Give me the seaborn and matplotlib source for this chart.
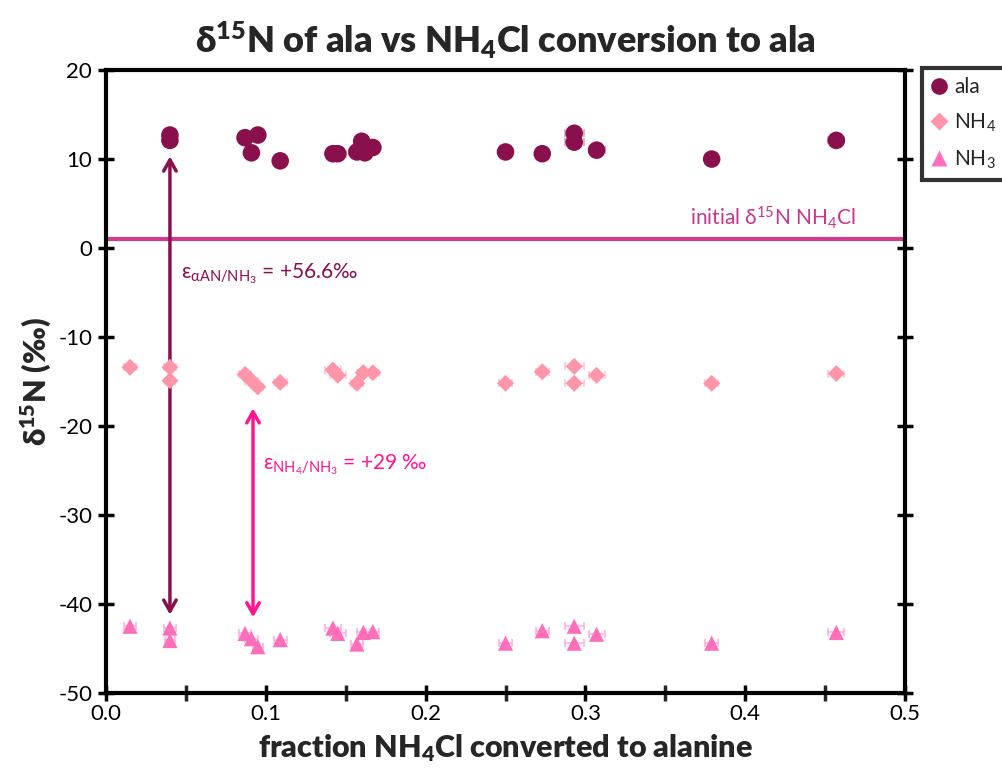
import matplotlib
matplotlib.use("Agg")
import matplotlib.pyplot as plt
import seaborn as sns
import pandas as pd
from matplotlib.lines import Line2D

# fraction of NH4Cl converted to alanine for each sample
frac_ala = [0.040, 0.040, 0.087, 0.095, 0.091, 0.109, 0.142, 0.145, 0.157, 0.160,
            0.162, 0.167, 0.250, 0.273, 0.293, 0.293, 0.307, 0.379, 0.457]
d15n_ala = [12.7, 12.1, 12.4, 12.7, 10.7, 9.8, 10.6, 10.6, 10.8, 12.0,
            10.7, 11.3, 10.8, 10.6, 12.9, 11.9, 11.0, 10.0, 12.1]

frac_nh4 = [0.015, 0.040, 0.040, 0.087, 0.091, 0.095, 0.109, 0.142, 0.145, 0.157,
            0.161, 0.167, 0.250, 0.273, 0.293, 0.293, 0.307, 0.379, 0.457]
d15n_nh4 = [-13.4, -13.4, -14.9, -14.2, -14.9, -15.6, -15.1, -13.7, -14.3, -15.2,
            -14.0, -14.0, -15.2, -13.9, -13.3, -15.2, -14.3, -15.2, -14.1]

frac_nh3 = [0.015, 0.040, 0.040, 0.087, 0.091, 0.095, 0.109, 0.142, 0.145, 0.157,
            0.161, 0.167, 0.250, 0.273, 0.293, 0.293, 0.307, 0.379, 0.457]
d15n_nh3 = [-42.5, -42.7, -44.1, -43.3, -43.9, -44.8, -44.0, -42.7, -43.3, -44.5,
            -43.2, -43.1, -44.4, -43.0, -42.5, -44.4, -43.4, -44.4, -43.2]

# uncertainty on the conversion fraction
frac_err = [0.004, 0.004, 0.003, 0.004, 0.004, 0.003, 0.004, 0.005, 0.005, 0.004,
            0.004, 0.004, 0.004, 0.004, 0.006, 0.006, 0.005, 0.004, 0.005]

initial_nh4cl = 1.0

series_names = ["ala", "NH$_4$", "NH$_3$"]
series_colors = ["#8a0f4d", "#ff95a8", "#ff6eb9"]
series_markers = ["o", "D", "^"]
series_sizes = [160, 75, 120]
err_colors = ["#e8a0c0", "#ffc6d2", "#ffb3da"]

df = pd.concat([
    pd.DataFrame({"frac": frac_ala, "d15n": d15n_ala, "err": frac_err, "species": series_names[0]}),
    pd.DataFrame({"frac": frac_nh4, "d15n": d15n_nh4, "err": frac_err, "species": series_names[1]}),
    pd.DataFrame({"frac": frac_nh3, "d15n": d15n_nh3, "err": frac_err, "species": series_names[2]}),
], ignore_index=True)

sns.set_style("white")
plt.rcParams["font.family"] = ["Lato", "DejaVu Sans"]
plt.rcParams["mathtext.default"] = "regular"

fig = plt.figure(figsize=(10.03, 7.70), dpi=100)
ax = fig.add_axes([0.1057, 0.1, 0.7966, 0.809])

# horizontal uncertainty bars
for name, ec in zip(series_names, err_colors):
    sub = df[df["species"] == name]
    ax.errorbar(sub["frac"], sub["d15n"], xerr=sub["err"], fmt="none",
                ecolor=ec, elinewidth=1.2, capsize=3, capthick=1.2, zorder=2)

sns.scatterplot(data=df, x="frac", y="d15n", hue="species", style="species",
                size="species",
                sizes=dict(zip(series_names, series_sizes)),
                palette=dict(zip(series_names, series_colors)),
                markers=dict(zip(series_names, series_markers)),
                linewidth=0, ax=ax, legend=False, zorder=3)

ax.axhline(initial_nh4cl, color="#d13b8f", lw=3, zorder=1)
ax.text(0.469, 1.9, "initial δ$^{15}$N NH$_4$Cl", color="#c8378a", fontsize=15,
        ha="right", va="bottom")

# fractionation arrows
ax.annotate("", xy=(0.040, -41.2), xytext=(0.040, 10.3),
            arrowprops=dict(arrowstyle="<->,head_length=0.8,head_width=0.45",
                            color="#8a0f4d", lw=2.5, shrinkA=0, shrinkB=0), zorder=1)
ax.text(0.047, -2.9, "ε$_{αAN/NH_3}$ = +56.6‰", color="#8a0f4d", fontsize=15,
        ha="left", va="center")

ax.annotate("", xy=(0.092, -41.5), xytext=(0.092, -18.0),
            arrowprops=dict(arrowstyle="<->,head_length=0.8,head_width=0.45",
                            color="#ff1493", lw=2.5, shrinkA=0, shrinkB=0), zorder=1)
ax.text(0.098, -24.3, "ε$_{NH_4/NH_3}$ = +29 ‰", color="#ff1493", fontsize=15,
        ha="left", va="center")

ax.set_xlim(0, 0.5)
ax.set_ylim(-50, 20)
ax.set_xticks([0.0, 0.1, 0.2, 0.3, 0.4, 0.5])
ax.set_xticklabels(["0.0", "0.1", "0.2", "0.3", "0.4", "0.5"])
ax.set_xticks([0.05, 0.15, 0.25, 0.35, 0.45], minor=True)
ax.set_yticks([20, 10, 0, -10, -20, -30, -40, -50])
ax.set_yticklabels(["20", "10", "0", "-10", "-20", "-30", "-40", "-50"])

for side in ["left", "right", "top", "bottom"]:
    ax.spines[side].set_visible(True)
    ax.spines[side].set_color("black")
    ax.spines[side].set_linewidth(3)
ax.tick_params(axis="both", which="major", direction="inout", length=12, width=2.5,
               labelsize=16, pad=2, colors="black")
ax.tick_params(axis="x", which="minor", direction="inout", length=12, width=2.5,
               bottom=True)
ax.tick_params(axis="y", right=True, left=True)
ax.tick_params(axis="x", top=False, bottom=True)
ax.tick_params(axis="y", which="major", pad=4)

ax.set_xlabel("fraction NH$_4$Cl converted to alanine", fontsize=22,
              fontweight="heavy", labelpad=6)
ax.set_ylabel("δ$^{15}$N (‰)", fontsize=22, fontweight="heavy", labelpad=4)
ax.set_title("δ$^{15}$N of ala vs NH$_4$Cl conversion to ala", fontsize=26,
             fontweight="heavy", pad=12)

handles = [Line2D([0], [0], marker=m, color="none", markerfacecolor=c,
                  markeredgecolor="none", markersize=ms, label=n)
           for n, c, m, ms in zip(series_names, series_colors, series_markers, [12, 9, 11])]
leg = ax.legend(handles=handles, loc="upper left", bbox_to_anchor=(1.021, 1.004),
                frameon=True, fancybox=False, fontsize=15, handletextpad=0.3,
                borderpad=0.45, labelspacing=0.7, handlelength=0.8,
                borderaxespad=0)
leg.get_frame().set_edgecolor("black")
leg.get_frame().set_linewidth(3)

fig.savefig("out.png", dpi=100)
